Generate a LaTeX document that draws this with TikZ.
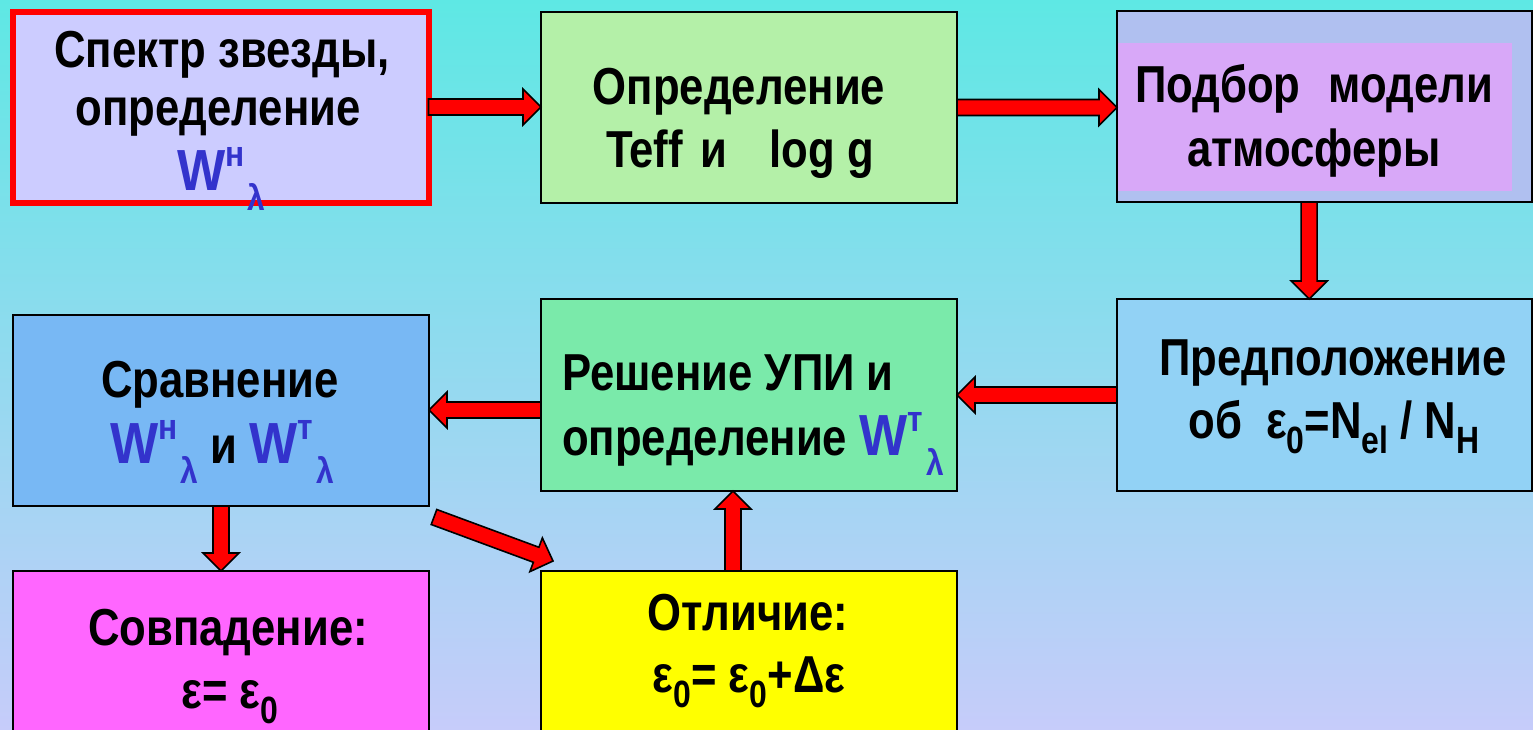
\documentclass[tikz,border=0pt]{standalone}
\usepackage{fontspec}
\usetikzlibrary{calc}
\newfontfamily\nar{Liberation Sans}[FakeStretch=0.84]
\newfontfamily\wfont{Liberation Sans}[FakeStretch=0.88]
\definecolor{wblue}{RGB}{51,51,204}
\definecolor{bgtop}{RGB}{94,232,228}
\definecolor{bgmid}{RGB}{140,214,240}
\definecolor{bgbot}{RGB}{198,204,250}
\definecolor{cA}{RGB}{204,204,255}
\definecolor{cB}{RGB}{180,240,168}
\definecolor{cC}{RGB}{176,192,240}
\definecolor{cCin}{RGB}{216,168,248}
\definecolor{cD}{RGB}{146,210,245}
\definecolor{cE}{RGB}{122,234,170}
\definecolor{cF}{RGB}{120,184,244}
\definecolor{cG}{RGB}{255,102,255}
\definecolor{cH}{RGB}{255,255,0}
\newcommand\lo[1]{\raisebox{-0.3em}{\fontsize{38}{38}\selectfont #1}}
\newcommand\Wl[1]{{\color{wblue}\wfont\bfseries\fontsize{58}{60}\selectfont W\raisebox{0.4em}{\fontsize{36}{36}\selectfont #1}\hspace{3pt}\raisebox{-0.36em}{\fontsize{36}{36}\selectfont λ}}}
\newcommand\barrow[2]{%
  \coordinate (tmpm) at ($(#2)!18pt!(#1)$);
  \draw[arr] ($(#1)!8pt!90:(#2)$) -- ($(tmpm)!8pt!-90:(#1)$) -- ($(tmpm)!18pt!-90:(#1)$)
    -- (#2) -- ($(tmpm)!18pt!90:(#1)$) -- ($(tmpm)!8pt!90:(#1)$) -- ($(#1)!8pt!-90:(#2)$) -- cycle;}
\tikzset{
  box/.style={draw=black, line width=2pt, inner sep=0pt, outer sep=0pt, anchor=north west},
  txt/.style={font=\nar\bfseries\fontsize{52}{60}\selectfont, inner sep=0pt, anchor=base},
  arr/.style={fill=red, draw=black, line width=1.6pt, line join=miter}
}
\begin{document}
\begin{tikzpicture}[x=1pt,y=-1pt]
\clip (0,0) rectangle (1533,729);
\shade[top color=bgtop, middle color=bgmid, bottom color=bgbot] (0,0) rectangle (1533,729);
% boxes
\node[box, draw=red, line width=6pt, fill=cA, minimum width=416pt, minimum height=191pt] (A) at (12.5,11.5) {};
\node[box, fill=cB, minimum width=416pt, minimum height=191pt] (B) at (541,12) {};
\node[box, fill=cC, minimum width=415pt, minimum height=191pt] (C) at (1117,11) {};
\fill[cCin] (1118,43) rectangle (1512,191);
\node[box, fill=cD, minimum width=415pt, minimum height=192pt] (D) at (1117,299) {};
\node[box, fill=cE, minimum width=416pt, minimum height=192pt] (E) at (541,299) {};
\node[box, fill=cF, minimum width=416pt, minimum height=191pt] (F) at (13,315) {};
\node[box, fill=cG, minimum width=416pt, minimum height=180pt] (G) at (13,571) {};
\node[box, fill=cH, minimum width=416pt, minimum height=180pt] (H) at (541,571) {};
% texts
\node[txt] (a1) at (222,67) {Спектр звезды,};
\node[txt] (a2) at (218,125) {определение};
\node[txt] (a3) at (221,190) {\Wl{н}};
\node[txt] (b1) at (739,104) {Определение};
\node[txt] (b2) at (740,167) {Teff\hspace{18pt}и\hspace{42pt}log g};
\node[txt] (c1) at (1314,102) {Подбор\hspace{28pt}модели};
\node[txt] (c2) at (1314,166) {атмосферы};
\node[txt] (d1) at (1333,375) {Предположение};
\node[txt] (d2) at (1334,438) {об\hspace{24pt}ε\lo{0}=N\lo{el} / N\lo{H}};
\node[txt, anchor=base west] (e1) at (562,390) {Решение УПИ и};
\node[txt, anchor=base west] (e2) at (562,455) {определение \Wl{т}};
\node[txt] (f1) at (220,397) {Сравнение};
\node[txt] (f2) at (222,463) {\Wl{н} и \Wl{т}};
\node[txt] (g1) at (228,645) {Совпадение:};
\node[txt] (g2) at (230,708) {ε= ε\lo{0}};
\node[txt] (h1) at (748,630) {Отличие:};
\node[txt] (h2) at (749,692) {ε\lo{0}= ε\lo{0}+Δε};
% arrows
\coordinate (ab1) at (A.east);
\coordinate (ab2) at (A.east -| B.west);
\barrow{ab1}{ab2}
\coordinate (bc1) at (B.east);
\coordinate (bc2) at (B.east -| C.west);
\barrow{bc1}{bc2}
\coordinate (cd1) at ($(C.south west)!0.463!(C.south east)$);
\coordinate (cd2) at (cd1 |- D.north);
\barrow{cd1}{cd2}
\coordinate (de1) at (D.west);
\coordinate (de2) at (D.west -| E.east);
\barrow{de1}{de2}
\coordinate (ef1) at ([yshift=-15pt]E.west);
\coordinate (ef2) at (ef1 -| F.east);
\barrow{ef1}{ef2}
\coordinate (fg1) at (F.south);
\coordinate (fg2) at (fg1 |- G.north);
\barrow{fg1}{fg2}
\coordinate (he1) at ([xshift=-16pt]H.north);
\coordinate (he2) at (he1 |- E.south);
\barrow{he1}{he2}
\coordinate (fh1) at ([shift={(5pt,-11pt)}]F.south east);
\coordinate (fh2) at ([shift={(12pt,10pt)}]H.north west);
\barrow{fh1}{fh2}
\end{tikzpicture}
\end{document}
